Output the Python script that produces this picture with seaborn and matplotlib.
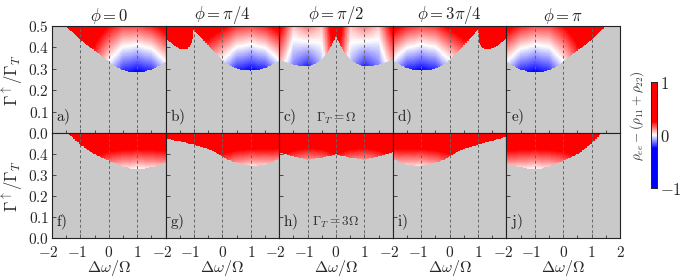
import numpy as np
import pandas as pd
import matplotlib
matplotlib.use("Agg")
import matplotlib.pyplot as plt
import matplotlib.transforms as mtransforms
import seaborn as sns
from matplotlib.colors import LinearSegmentedColormap

# colour samples are read at these detunings (Delta omega / Omega)
dw_cols = [-2, -1.5, -1, -0.5, 0, 0.5, 1, 1.5, 2]

# ---- top row, Gamma_T = Omega ----
# edge of the grey (unstable) region: (detuning, Gamma_up / Gamma_T)
a_edge = [(-2, 0.55), (-1.56, 0.5), (-1.25, 0.468), (-1, 0.435), (-0.5, 0.385),
          (0, 0.335), (0.25, 0.31), (0.5, 0.295), (0.75, 0.287), (1, 0.285),
          (1.25, 0.288), (1.5, 0.297), (1.75, 0.313), (2, 0.335)]
a_lo = [0.35, 0.35, 0.33, 0.22, 0.0, -0.2, -0.26, -0.2, 0.0]
a_hi = [0.4, 0.4, 0.4, 0.35, 0.25, 0.18, 0.18, 0.22, 0.3]

b_edge = [(-2, 0.443), (-1.8, 0.42), (-1.6, 0.40), (-1.4, 0.39), (-1.25, 0.393),
          (-1.15, 0.402), (-1.08, 0.418), (-1.04, 0.45), (-1.02, 0.482),
          (-0.98, 0.476), (-0.75, 0.445), (-0.5, 0.41), (-0.25, 0.375),
          (0, 0.344), (0.25, 0.318), (0.5, 0.302), (0.75, 0.294), (1, 0.292),
          (1.25, 0.295), (1.5, 0.305), (1.75, 0.32), (2, 0.34)]
b_lo = [0.35, 0.35, 0.3, 0.2, 0.0, -0.2, -0.26, -0.2, 0.0]
b_hi = [0.4, 0.4, 0.4, 0.35, 0.28, 0.2, 0.18, 0.22, 0.3]

c_edge = [(-2, 0.345), (-1.75, 0.33), (-1.5, 0.32), (-1.25, 0.315), (-1, 0.313),
          (-0.75, 0.322), (-0.5, 0.345), (-0.3, 0.375), (-0.15, 0.41), (0, 0.45),
          (0.15, 0.41), (0.3, 0.375), (0.5, 0.345), (0.75, 0.322), (1, 0.313),
          (1.25, 0.315), (1.5, 0.32), (1.75, 0.33), (2, 0.345)]
c_lo = [0.1, -0.12, -0.22, -0.05, 0.35, -0.05, -0.22, -0.12, 0.1]
c_hi = [0.3, 0.06, 0.14, 0.06, 0.4, 0.06, 0.14, 0.06, 0.3]

d_edge = [(-2, 0.34), (-1.75, 0.32), (-1.5, 0.305), (-1.25, 0.295), (-1, 0.292),
          (-0.75, 0.294), (-0.5, 0.302), (-0.25, 0.318), (0, 0.344),
          (0.25, 0.375), (0.5, 0.41), (0.75, 0.445), (0.96, 0.476),
          (1.0, 0.482), (1.02, 0.45), (1.06, 0.418), (1.13, 0.402),
          (1.25, 0.39), (1.4, 0.393), (1.6, 0.40), (1.8, 0.42), (2, 0.443)]
d_lo = [0.0, -0.2, -0.26, -0.2, 0.0, 0.2, 0.3, 0.35, 0.35]
d_hi = [0.3, 0.22, 0.18, 0.2, 0.28, 0.35, 0.4, 0.4, 0.4]

e_edge = [(-2, 0.335), (-1.75, 0.313), (-1.5, 0.297), (-1.25, 0.288), (-1, 0.285),
          (-0.75, 0.287), (-0.5, 0.295), (-0.25, 0.31), (0, 0.335), (0.5, 0.385),
          (1, 0.435), (1.25, 0.468), (1.5, 0.5), (2, 0.55)]
e_lo = [0.0, -0.2, -0.26, -0.2, 0.0, 0.22, 0.33, 0.35, 0.35]
e_hi = [0.3, 0.22, 0.18, 0.18, 0.25, 0.35, 0.4, 0.4, 0.4]

# ---- bottom row, Gamma_T = 3 Omega ----
f_edge = [(-2, 0.55), (-1.45, 0.5), (-1.25, 0.478), (-1, 0.445), (-0.5, 0.40),
          (0, 0.37), (0.5, 0.342), (0.75, 0.333), (1, 0.329), (1.25, 0.332),
          (1.5, 0.338), (1.75, 0.347), (2, 0.357)]
f_lo = [0.4, 0.4, 0.35, 0.28, 0.15, 0.05, 0.0, 0.04, 0.1]
f_hi = [0.45, 0.45, 0.45, 0.45, 0.45, 0.45, 0.45, 0.45, 0.45]

g_edge = [(-2, 0.476), (-1.5, 0.462), (-1, 0.445), (-0.5, 0.425), (-0.25, 0.41),
          (0, 0.39), (0.25, 0.372), (0.5, 0.36), (0.75, 0.35), (1, 0.345),
          (1.25, 0.345), (1.5, 0.35), (1.75, 0.362), (2, 0.38)]
g_lo = [0.4, 0.4, 0.38, 0.33, 0.22, 0.1, 0.03, 0.05, 0.12]
g_hi = [0.45, 0.45, 0.45, 0.45, 0.45, 0.45, 0.45, 0.45, 0.45]

h_edge = [(-2, 0.41), (-1.5, 0.39), (-1, 0.375), (-0.5, 0.385), (0, 0.40),
          (0.5, 0.385), (1, 0.375), (1.5, 0.39), (2, 0.41)]
h_lo = [0.3, 0.18, 0.1, 0.15, 0.25, 0.15, 0.1, 0.18, 0.3]
h_hi = [0.45, 0.45, 0.45, 0.45, 0.45, 0.45, 0.45, 0.45, 0.45]

i_edge = [(-2, 0.38), (-1.75, 0.362), (-1.5, 0.35), (-1.25, 0.345), (-1, 0.345),
          (-0.75, 0.35), (-0.5, 0.36), (-0.25, 0.372), (0, 0.39), (0.25, 0.41),
          (0.5, 0.425), (1, 0.445), (1.5, 0.465), (2, 0.485)]
i_lo = [0.12, 0.05, 0.03, 0.1, 0.22, 0.33, 0.38, 0.4, 0.4]
i_hi = [0.45, 0.45, 0.45, 0.45, 0.45, 0.45, 0.45, 0.45, 0.45]

j_edge = [(-2, 0.357), (-1.75, 0.347), (-1.5, 0.338), (-1.25, 0.332), (-1, 0.329),
          (-0.75, 0.333), (-0.5, 0.342), (0, 0.37), (0.5, 0.40), (1, 0.452),
          (1.2, 0.48), (1.35, 0.5), (2, 0.55)]
j_lo = [0.1, 0.04, 0.0, 0.05, 0.15, 0.28, 0.35, 0.4, 0.4]
j_hi = [0.45, 0.45, 0.45, 0.45, 0.45, 0.45, 0.45, 0.45, 0.45]

titles = [r"$\phi = 0$", r"$\phi = \pi/4$", r"$\phi = \pi/2$",
          r"$\phi = 3\pi/4$", r"$\phi = \pi$"]
letters = ["a)", "b)", "c)", "d)", "e)", "f)", "g)", "h)", "i)", "j)"]

NX, NY = 180, 160
GREY = "#c9c9c9"
cmap = LinearSegmentedColormap.from_list(
    "rho", [(0, "#0000ff"), (0.375, "#0000ff"), (0.5, "#ffffff"),
            (0.625, "#ff0000"), (1, "#ff0000")])


def fx(d):
    return (np.asarray(d) + 2) / 4 * NX


def fy(g):
    return np.asarray(g) / 0.5 * NY


def panel_frame(edge, lo, hi):
    dw = -2 + (np.arange(NX) + 0.5) * 4 / NX
    gam = (np.arange(NY) + 0.5) * 0.5 / NY
    ex, ey = zip(*edge)
    b = np.interp(dw, ex, ey)
    bot = np.interp(dw, dw_cols, lo)
    top = np.interp(dw, dw_cols, hi)
    span = np.maximum(0.5 - b, 1e-3)
    frac = np.clip((gam[:, None] - b) / span, 0, 1)
    val = bot + (top - bot) * frac
    val[gam[:, None] < b] = np.nan
    return pd.DataFrame(val, index=gam, columns=dw)


def hang_minus(labels, fig):
    # keep the digit on the tick, let the minus sign hang to the left
    shift = mtransforms.ScaledTranslation(-3.5 / 100, 0, fig.dpi_scale_trans)
    for lab in labels:
        if "-" in lab.get_text():
            lab.set_transform(lab.get_transform() + shift)


sns.set_theme(style="ticks")
plt.rcParams["mathtext.fontset"] = "cm"
plt.rcParams["font.family"] = ["DejaVu Serif"]

fig = plt.figure(figsize=(6.81, 2.79), dpi=100)
W, H = 681.0, 279.0
x0, pw = 52 / W, 113.6 / W
rows = [(1 - 133.3 / H, (133.3 - 26) / H), (1 - 238.3 / H, (238.3 - 133.3) / H)]
cax = fig.add_axes([651 / W, 1 - 188 / H, 6 / W, 106 / H])

data = [(a_edge, a_lo, a_hi), (b_edge, b_lo, b_hi), (c_edge, c_lo, c_hi),
        (d_edge, d_lo, d_hi), (e_edge, e_lo, e_hi), (f_edge, f_lo, f_hi),
        (g_edge, g_lo, g_hi), (h_edge, h_lo, h_hi), (i_edge, i_lo, i_hi),
        (j_edge, j_lo, j_hi)]

panels = []
for k, (edge, lo, hi) in enumerate(data):
    r, c = divmod(k, 5)
    bottom, height = rows[r]
    ax = fig.add_axes([x0 + c * pw, bottom, pw, height])
    panels.append(ax)
    ax.set_facecolor(GREY)
    sns.heatmap(panel_frame(edge, lo, hi), ax=ax, cmap=cmap, vmin=-1, vmax=1,
                cbar=(k == 0), cbar_ax=cax if k == 0 else None,
                xticklabels=False, yticklabels=False, rasterized=True)
    ax.set_xlim(0, NX)
    ax.set_ylim(0, NY)
    for s in ax.spines.values():
        s.set_visible(True)
        s.set_color("#222222")
        s.set_linewidth(0.8)
    for d in (-1, 0, 1):
        ax.axvline(fx(d), color="#666666", lw=0.7, ls=(0, (3, 2.5)))

    ax.set_xticks(fx([-2, -1, 0, 1, 2]))
    ax.set_xticks(fx([-1.5, -0.5, 0.5, 1.5]), minor=True)
    ax.set_yticks(fy([0, 0.1, 0.2, 0.3, 0.4, 0.5]))
    ax.tick_params(which="both", direction="in", length=3, width=0.6,
                   color="#333333", labelsize=11, pad=2)
    ax.tick_params(axis="x", pad=4.5)
    ax.tick_params(which="minor", length=2)
    if r == 1:
        xl = [r"$-2$", r"$-1$", r"$0$", r"$1$", r"$2$" if c == 4 else ""]
        ax.set_xticklabels(xl)
        hang_minus(ax.get_xticklabels(), fig)
        ax.set_xlabel(r"$\Delta\omega/\Omega$", fontsize=11.5, labelpad=-1)
    else:
        ax.set_xticklabels([])
        ax.set_xlabel("")
        ax.set_title(titles[c], fontsize=12, pad=3)
    if c == 0:
        yl = [r"$0.0$", r"$0.1$", r"$0.2$", r"$0.3$", r"$0.4$",
              r"$0.5$" if r == 0 else ""]
        ax.set_yticklabels(yl)
        ax.set_ylabel(r"$\Gamma^{\uparrow}/\Gamma_T$", fontsize=12, labelpad=2)
    else:
        ax.set_yticklabels([])
        ax.set_ylabel("")
    ax.text(fx(-1.85), fy(0.03), r"$\mathrm{" + letters[k] + "}$",
            fontsize=11, color="#222222", ha="left", va="bottom")

panels[2].text(fx(0), fy(0.035), r"$\Gamma_T = \Omega$", fontsize=9.5,
               color="#333333", ha="center", va="bottom")
panels[7].text(fx(0), fy(0.04), r"$\Gamma_T = 3\Omega$", fontsize=9.5,
               color="#333333", ha="center", va="bottom")

cax.set_yticks([-1, 0, 1])
cax.set_yticks([-0.5, 0.5], minor=True)
cax.set_yticklabels([r"$-1$", r"$0$", r"$1$"])
cax.tick_params(which="both", direction="in", length=2, width=0.6,
                labelsize=12, pad=2, right=True, left=False)
for s in cax.spines.values():
    s.set_visible(True)
    s.set_linewidth(0.6)
fig.text(637 / W, 1 - 116 / H, r"$\rho_{ee} - (\rho_{11} + \rho_{22})$",
         rotation=90, fontsize=9.5, color="#333333", ha="center", va="center")

fig.savefig("out.png", dpi=100)
